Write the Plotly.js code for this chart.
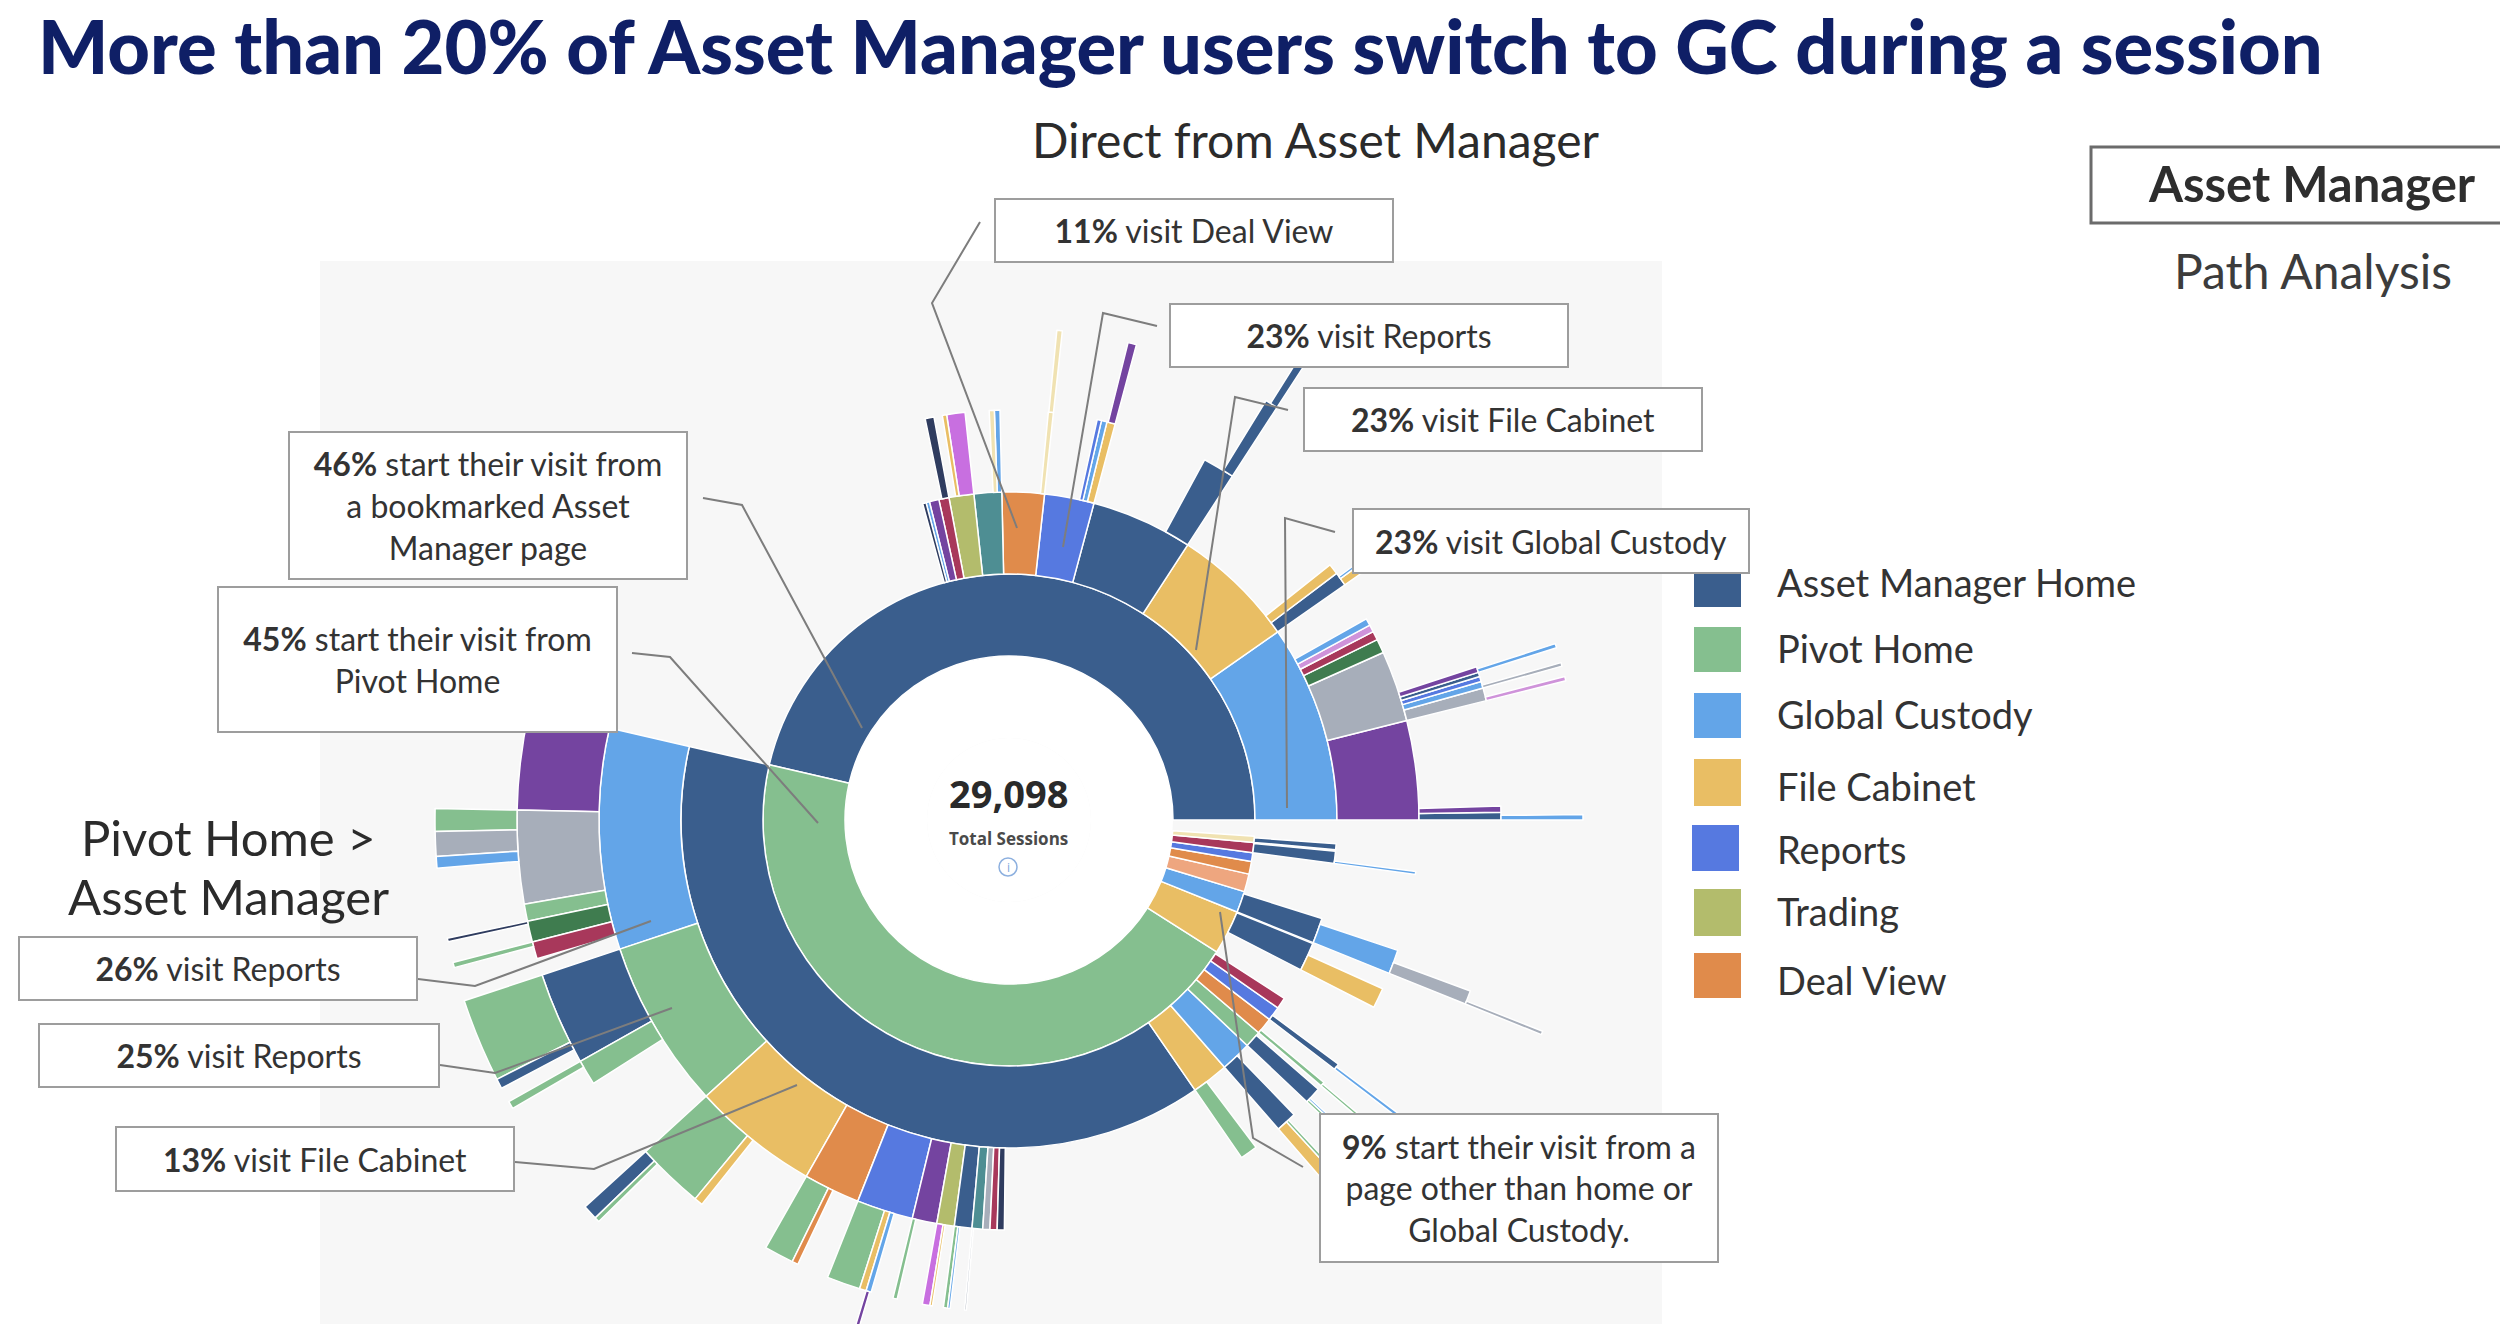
<!DOCTYPE html>
<html>
<head>
<meta charset="utf-8">
<script src="https://cdn.plot.ly/plotly-3.0.1.min.js"></script>
<style>
html,body{margin:0;padding:0;width:2500px;height:1324px;overflow:hidden;background:#ffffff;}
#wrap{width:2500px;height:1324px;overflow:hidden;position:relative;}
#chart{width:2500px;height:1400px;}
</style>
</head>
<body>
<div id="wrap"><div id="chart"></div></div>
<script>
// ---------------- DATA (shares of the 29,098 sessions, in %) ----------------
const totalSessions = 29098;

const pageCodes = ['AMH','PH','GC','FC','REP','TRD','DV','TEAL','CRIM','PURP','GRAY','DKGR','PINK','MAG','SAL','PALE','NAVY','EXIT'];
const pageNames = ['Asset Manager Home','Pivot Home','Global Custody','File Cabinet','Reports','Trading','Deal View',
  'Other page','Other page','Other page','Other page','Other page','Other page','Other page','Other page','Other page','Other page','Session ended'];

// step 1: first page of the session
const ring1Paths = ['AMH','PH','FC','GC','SAL','DV','REP','CRIM','PALE'];
const ring1Share = [46.4,44.6,2.9,1.4,1.17,0.83,0.58,0.67,0.4];

// step 2
const ring2Paths = ['AMH/GC','AMH/FC','AMH/AMH','AMH/REP','AMH/DV','AMH/TEAL','AMH/TRD','AMH/CRIM','AMH/PURP','AMH/GC#2','AMH/NAVY',
  'PH/AMH','PH/FC','PH/GC','PH/PH','PH/DV','PH/REP','PH/CRIM',
  'FC/EXIT','FC/AMH','GC/AMH','CRIM/AMH','PALE/AMH'];
const ring2Share = [9.72,6.11,5.0,2.44,2.08,1.36,1.22,0.5,0.47,0.17,0.17,
  38.2,1.81,1.53,0.83,0.83,0.69,0.56,
  1.45,1.4,1.25,0.6,0.3];

// step 3
const ring3Paths = ['AMH/GC/PURP','AMH/GC/GRAY','AMH/GC/DKGR','AMH/GC/CRIM','AMH/GC/PINK','AMH/GC/GC',
  'AMH/FC/AMH','AMH/FC/FC','AMH/AMH/AMH','AMH/REP/FC','AMH/REP/GC','AMH/REP/REP','AMH/DV/PALE',
  'AMH/TEAL/GC','AMH/TEAL/PALE','AMH/TRD/MAG','AMH/TRD/FC','AMH/CRIM/NAVY',
  'PH/AMH/GC','PH/AMH/PH','PH/AMH/FC','PH/AMH/DV','PH/AMH/REP','PH/AMH/PURP','PH/AMH/TRD','PH/AMH/AMH',
  'PH/AMH/TEAL','PH/AMH/GRAY','PH/AMH/CRIM','PH/AMH/NAVY',
  'PH/FC/PH','PH/GC/AMH','PH/PH/AMH','PH/DV/PH','PH/REP/AMH',
  'FC/AMH/FC','GC/AMH/GC','CRIM/AMH/GC'];
const ring3Share = [3.9,2.8,0.55,0.35,0.28,0.28,
  0.55,0.42,1.25,0.33,0.22,0.17,0.2,
  0.22,0.2,0.72,0.17,0.35,
  8.7,6.67,5.0,2.22,2.22,0.97,0.69,0.69,
  0.42,0.28,0.28,0.28,
  0.69,0.83,0.66,0.17,0.25,
  0.8,0.95,0.12];

// step 4
const ring4Paths = ['AMH/GC/PURP/AMH','AMH/GC/PURP/PURP',
  'AMH/GC/GRAY/GRAY','AMH/GC/GRAY/GC','AMH/GC/GRAY/REP','AMH/GC/GRAY/AMH','AMH/GC/GRAY/PURP',
  'AMH/FC/AMH/FC','AMH/FC/AMH/GC','AMH/AMH/AMH/AMH','AMH/REP/FC/PURP','AMH/DV/PALE/PALE',
  'PH/AMH/GC/PURP','PH/AMH/GC/GRAY','PH/AMH/GC/PH','PH/AMH/GC/DKGR','PH/AMH/GC/CRIM',
  'PH/AMH/PH/AMH','PH/AMH/PH/PH','PH/AMH/FC/PH','PH/AMH/FC/FC','PH/AMH/DV/PH','PH/AMH/DV/DV',
  'PH/AMH/REP/PH','PH/AMH/REP/FC','PH/AMH/REP/GC','PH/AMH/PURP/PH','PH/AMH/TRD/MAG','PH/AMH/TRD/FC',
  'PH/AMH/AMH/PH','PH/AMH/AMH/GC','PH/AMH/TEAL/GRAY',
  'PH/GC/AMH/FC','PH/GC/AMH/PH','PH/PH/AMH/PH','PH/PH/AMH/GC','PH/DV/PH/PH','PH/REP/AMH/GC',
  'GC/AMH/GC/GRAY'];
const ring4Share = [0.25,0.2,
  0.42,0.22,0.17,0.14,0.19,
  0.3,0.1,0.42,0.28,0.18,
  3.28,3.06,0.56,0.69,0.56,
  3.06,0.83,2.22,0.28,0.97,0.2,
  1.1,0.22,0.17,0.14,0.25,0.08,
  0.14,0.08,0.06,
  0.42,0.11,0.11,0.08,0.1,0.12,
  0.45];

// step 5
const ring5Paths = ['AMH/GC/PURP/AMH/GC','AMH/GC/GRAY/GRAY/PINK','AMH/GC/GRAY/GC/GRAY','AMH/GC/GRAY/PURP/GC',
  'AMH/AMH/AMH/AMH/AMH',
  'PH/AMH/GC/PURP/PH','PH/AMH/GC/PURP/PINK','PH/AMH/GC/GRAY/PH','PH/AMH/GC/GRAY/GRAY','PH/AMH/GC/GRAY/GC',
  'PH/AMH/GC/DKGR/NAVY','PH/AMH/GC/CRIM/PH','PH/AMH/PH/AMH/PH','PH/AMH/PH/AMH/AMH','PH/AMH/PH/PH/PH',
  'PH/AMH/FC/PH/AMH','PH/AMH/FC/PH/PH','PH/AMH/REP/GC/PURP','PH/REP/AMH/GC/DV','GC/AMH/GC/GRAY/GRAY'];
const ring5Share = [0.15,0.12,0.1,0.12,
  0.25,
  0.25,0.08,0.64,0.69,0.33,
  0.1,0.15,2.36,0.28,0.22,
  0.42,0.14,0.12,0.06,0.1];

// legend entries
const legendPages = ['Asset Manager Home','Pivot Home','Global Custody','File Cabinet','Reports','Trading','Deal View'];

// ---------------- STYLE ----------------
const pageColor = {
  AMH:'#3a5e8d', PH:'#85bf8f', GC:'#63a5e8', FC:'#e9be64', REP:'#5679e0', TRD:'#b3bc6c', DV:'#e08b4b',
  TEAL:'#4e8e93', CRIM:'#a8385b', PURP:'#7444a0', GRAY:'#a7aeba', DKGR:'#3f7c4f', PINK:'#cf93da',
  MAG:'#c86fe0', SAL:'#eea67f', PALE:'#f0e2b2', NAVY:'#2f3c5f', EXIT:'rgba(0,0,0,0)'
};
const nameToCode = {};
pageCodes.forEach((c,i)=>{ if(!(pageNames[i] in nameToCode)) nameToCode[pageNames[i]] = c; });

const W = 2500, H = 1400;
const CX = 1009, CY = 820, R = 574;
const px = x => x / W;
const py = y => 1 - y / H;

// ---------------- build hierarchy ----------------
const ids = ['root','sessions'];
const labels = ['All sessions','Total Sessions'];
const parents = ['', 'root'];
const values = [100, 100];
const colors = ['#ffffff','#ffffff'];
const lineW = [0, 0];
[[ring1Paths,ring1Share],[ring2Paths,ring2Share],[ring3Paths,ring3Share],[ring4Paths,ring4Share],[ring5Paths,ring5Share]]
.forEach(([paths, shares]) => {
  paths.forEach((p, i) => {
    const segs = p.split('/');
    const code = segs[segs.length-1].split('#')[0];
    ids.push(p);
    parents.push(segs.length === 1 ? 'sessions' : segs.slice(0,-1).join('/'));
    labels.push(pageNames[pageCodes.indexOf(code)]);
    values.push(shares[i]);
    colors.push(pageColor[code]);
    lineW.push(code === 'EXIT' ? 0 : 1.5);
  });
});

const trace = {
  type: 'sunburst',
  ids: ids, labels: labels, parents: parents, values: values,
  branchvalues: 'total',
  sort: false,
  rotation: 0,
  textinfo: 'none',
  hoverinfo: 'label+percent root',
  leaf: {opacity: 1},
  marker: {colors: colors, line: {color: '#ffffff', width: lineW}},
  domain: {x: [px(CX - R), px(CX + R)], y: [py(CY + R), py(CY - R)]}
};

// ---------------- annotations & shapes ----------------
const textFont = 'Lato, "Open Sans", sans-serif';
const ann = [];
const shapes = [];

// grey panel behind the diagram
shapes.push({type:'rect', xref:'paper', yref:'paper', x0:px(320), x1:px(1662), y0:py(1400), y1:py(261),
  fillcolor:'#f7f7f7', line:{width:0}, layer:'below'});

// centre text
ann.push({xref:'paper', yref:'paper', x:px(1008), y:py(793), text:totalSessions.toLocaleString('en-US'), showarrow:false,
  font:{family:'"Open Sans", sans-serif', size:38, color:'#2a2a2a', weight:700}, xanchor:'center', yanchor:'middle'});
ann.push({xref:'paper', yref:'paper', x:px(1008), y:py(838), text:'Total Sessions', showarrow:false,
  font:{family:'"Open Sans", sans-serif', size:17, color:'#4a4a4a', weight:700}, xanchor:'center', yanchor:'middle'});
shapes.push({type:'circle', xref:'paper', yref:'paper', x0:px(999), x1:px(1017), y0:py(876), y1:py(858),
  line:{color:'#8db0df', width:1.5}, fillcolor:'rgba(0,0,0,0)', layer:'above'});
ann.push({xref:'paper', yref:'paper', x:px(1008), y:py(867), text:'i', showarrow:false,
  font:{family:'"Open Sans", sans-serif', size:12, color:'#7ea6dc'}, xanchor:'center', yanchor:'middle'});

// callout boxes
const boxes = [
  [994,198,1394,263,'<b>11%</b> visit Deal View'],
  [1169,303,1569,368,'<b>23%</b> visit Reports'],
  [1303,387,1703,452,'<b>23%</b> visit File Cabinet'],
  [1352,508,1750,574,'<b>23%</b> visit Global Custody'],
  [288,431,688,580,'<b>46%</b> start their visit from<br>a bookmarked Asset<br>Manager page'],
  [217,586,618,733,'<b>45%</b> start their visit from<br>Pivot Home'],
  [18,936,418,1001,'<b>26%</b> visit Reports'],
  [38,1023,440,1088,'<b>25%</b> visit Reports'],
  [115,1126,515,1192,'<b>13%</b> visit File Cabinet'],
  [1319,1113,1719,1263,'<b>9%</b> start their visit from a<br>page other than home or<br>Global Custody.']
];
// leader lines
const leaders = [
  [[980,222],[932,303],[1017,528]],
  [[1157,326],[1103,313],[1063,547]],
  [[1288,410],[1235,397],[1196,650]],
  [[1335,532],[1285,518],[1287,808]],
  [[703,498],[742,505],[862,728]],
  [[632,653],[670,657],[818,823]],
  [[418,979],[475,986],[651,921]],
  [[440,1065],[495,1073],[672,1008]],
  [[515,1162],[594,1169],[797,1085]],
  [[1303,1167],[1253,1138],[1220,912]]
];
leaders.forEach(pts => {
  const d = pts.map((p,i)=>(i?'L':'M')+px(p[0])+','+py(p[1])).join(' ');
  shapes.push({type:'path', xref:'paper', yref:'paper', path:d, line:{color:'#7d7d7d', width:2}, layer:'above'});
});

// legend squares (drawn before boxes so the GC box overlaps like the original)
const legendRows = [[561,607,582],[627,672,648],[693,738,714],[759,806,786],[825,871,849],[889,936,911],[953,998,980]];
legendPages.forEach((name,i)=>{
  const r = legendRows[i];
  const x0 = name === 'Reports' ? 1692 : 1694;
  shapes.push({type:'rect', xref:'paper', yref:'paper', x0:px(x0), x1:px(x0+47), y0:py(r[1]), y1:py(r[0]),
    fillcolor:pageColor[nameToCode[name]], line:{width:0}, layer:'above'});
  ann.push({xref:'paper', yref:'paper', x:px(1775), y:py(r[2]), text:name, showarrow:false,
    font:{family:textFont, size:38, color:'#333333'}, xanchor:'left', yanchor:'middle'});
});

boxes.forEach(b => {
  const [x0,y0,x1,y1,t] = b;
  ann.push({xref:'paper', yref:'paper', x:px((x0+x1)/2), y:py((y0+y1)/2), xanchor:'center', yanchor:'middle',
    text:t, showarrow:false, bgcolor:'#ffffff', bordercolor:'#9d9d9d', borderwidth:2, borderpad:0,
    width:(x1-x0)-4, height:(y1-y0)-4, align:'center', valign:'middle',
    font:{family:textFont, size:32, color:'#333333'}});
});

// headings
ann.push({xref:'paper', yref:'paper', x:px(1315), y:py(140), text:'Direct from Asset Manager', showarrow:false,
  font:{family:textFont, size:48, color:'#2b2b2b'}, xanchor:'center', yanchor:'middle'});
ann.push({xref:'paper', yref:'paper', x:px(228), y:py(837), text:'Pivot Home &gt;', showarrow:false,
  font:{family:textFont, size:49, color:'#2b2b2b'}, xanchor:'center', yanchor:'middle'});
ann.push({xref:'paper', yref:'paper', x:px(228), y:py(896), text:'Asset Manager', showarrow:false,
  font:{family:textFont, size:49, color:'#2b2b2b'}, xanchor:'center', yanchor:'middle'});

// top-right tag
shapes.push({type:'rect', xref:'paper', yref:'paper', x0:px(2091), x1:px(2520), y0:py(223), y1:py(147),
  fillcolor:'#ffffff', line:{color:'#6b6b6b', width:3}, layer:'above'});
ann.push({xref:'paper', yref:'paper', x:px(2312), y:py(183), text:'Asset Manager', showarrow:false,
  font:{family:textFont, size:49, color:'#2e2e2e', weight:700}, xanchor:'center', yanchor:'middle'});
ann.push({xref:'paper', yref:'paper', x:px(2313), y:py(271), text:'Path Analysis', showarrow:false,
  font:{family:textFont, size:48, color:'#3c3c3c'}, xanchor:'center', yanchor:'middle'});

const layout = {
  width: W, height: H,
  margin: {l:0, r:0, t:0, b:0},
  paper_bgcolor: '#ffffff',
  showlegend: false,
  title: {text:'More than 20% of Asset Manager users switch to GC during a session',
    font:{family:textFont, size:74, color:'#0f1f66', weight:900},
    x: px(38), xanchor:'left', xref:'container', y: 1 - 48/H, yref:'container', yanchor:'middle'},
  annotations: ann,
  shapes: shapes
};

Plotly.newPlot('chart', [trace], layout, {displayModeBar:false, responsive:false});
</script>
</body>
</html>
